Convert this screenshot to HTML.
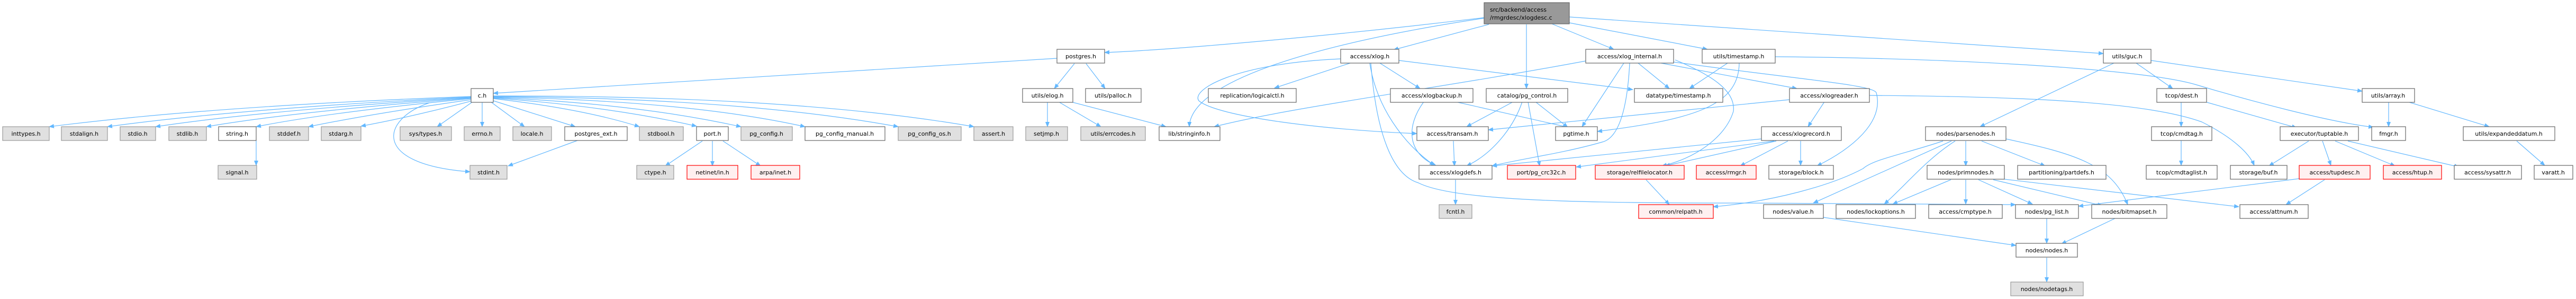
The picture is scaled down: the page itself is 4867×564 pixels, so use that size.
<!DOCTYPE html>
<html><head><meta charset="utf-8"><style>
html,body{margin:0;padding:0;background:#fff}
svg{display:block}
text{font-family:"DejaVu Sans","Liberation Sans",sans-serif;font-size:11px;fill:#000}
.n rect{fill:#fff;stroke:#666;stroke-width:1.2}
.g rect{fill:#e0e0e0;stroke:#999;stroke-width:1.2}
.r rect{fill:#fff0f0;stroke:#f00;stroke-width:1.2}
.e path{fill:none;stroke:#63b8ff;stroke-width:1.2;marker-end:url(#a)}
</style></head><body>
<svg width="4867" height="564" viewBox="0 0 4867 564" xmlns="http://www.w3.org/2000/svg">
<defs><marker id="a" markerWidth="10" markerHeight="8" refX="9" refY="4" orient="auto" markerUnits="userSpaceOnUse"><path d="M0,0 L10,4 L0,8z" fill="#63b8ff"/></marker></defs>
<g class="e">
<!-- main -->
<path d="M2806,33 C2500,70 2200,95 2087,99"/>
<path d="M2806,34 C2500,80 2250,150 2247,239"/>
<path d="M2813,46 L2633,94"/>
<path d="M2884,46 L2884,167"/>
<path d="M2932,45 L3049,93"/>
<path d="M2965,43 L3226,93"/>
<path d="M2965,32 L3974,101"/>
<!-- postgres.h -->
<path d="M1997,110 L932,176"/>
<path d="M2030,120 L1992,167"/>
<path d="M2052,120 L2088,167"/>
<!-- elog -->
<path d="M1979,192 L1979,239"/>
<path d="M2000,192 L2080,239"/>
<path d="M2023,192 L2203,239"/>
<!-- c.h -->
<path d="M890,182 Q400,200 93,239"/>
<path d="M890,183 Q450,205 203,239"/>
<path d="M890,184 Q500,208 294,239"/>
<path d="M890,185 Q560,210 390,239"/>
<path d="M890,186 Q620,212 484,239"/>
<path d="M890,188 Q700,215 583,239"/>
<path d="M893,190 Q780,220 682,238"/>
<path d="M811,194 C720,225 700,310 888,324"/>
<path d="M893,192 L826,239"/>
<path d="M911,192 L911,239"/>
<path d="M927,192 L991,239"/>
<path d="M932,190 L1087,239"/>
<path d="M932,186 Q1100,205 1208,239"/>
<path d="M932,185 Q1150,200 1316,238"/>
<path d="M932,184 Q1200,195 1400,239"/>
<path d="M932,183 Q1300,190 1521,239"/>
<path d="M932,182 Q1400,185 1697,239"/>
<path d="M932,181 Q1500,180 1840,239"/>
<path d="M484,265 L484,312"/>
<path d="M1091,265 L960,313"/>
<path d="M1327,266 L1257,313"/>
<path d="M1346,266 L1346,313"/>
<path d="M1366,266 L1437,313"/>
<!-- xlog.h -->
<path d="M2551,119 L2408,166"/>
<path d="M2533,111 C2330,120 2250,170 2265,190 C2300,220 2500,245 2677,252"/>
<path d="M2607,119 L2683,167"/>
<path d="M2643,114 L3085,169"/>
<path d="M2588,119 C2600,200 2650,270 2710,312"/>
<path d="M2590,119 C2600,250 2630,330 2680,345 C2750,380 3000,383 3300,383 L3808,386"/>
<!-- xlogbackup -->
<path d="M2690,192 C2655,240 2660,290 2713,312"/>
<path d="M2750,192 L2962,240"/>
<!-- pg_control -->
<path d="M2859,192 L2771,239"/>
<path d="M2876,192 C2860,240 2820,290 2771,313"/>
<path d="M2887,192 L2909,313"/>
<path d="M2901,192 L2962,240"/>
<!-- xlog_internal -->
<path d="M2996,115 C2700,170 2450,200 2294,239"/>
<path d="M3068,119 L2989,239"/>
<path d="M3079,119 C3075,200 3060,260 3027,268 C2950,290 2870,300 2819,313"/>
<path d="M3095,119 L3154,167"/>
<path d="M3165,113 C3230,140 3280,170 3275,210 C3260,260 3200,300 3140,313"/>
<path d="M3138,119 L3395,167"/>
<path d="M3162,117 C3400,150 3540,160 3545,175 C3560,230 3500,280 3433,313"/>
<!-- timestamp -->
<path d="M3264,119 L3192,167"/>
<path d="M3286,119 C3285,200 3200,225 3018,248"/>
<path d="M3354,107 C3700,110 4050,130 4150,160 C4250,190 4400,230 4484,240"/>
<!-- xlogreader -->
<path d="M3381,188 L2812,245"/>
<path d="M3447,192 L3416,239"/>
<path d="M3531,180 C3800,182 4050,190 4160,230 C4220,260 4250,290 4259,312"/>
<!-- xlogrecord -->
<path d="M3328,262 L2819,313"/>
<path d="M3352,266 L2978,315"/>
<path d="M3356,266 L3146,313"/>
<path d="M3378,266 L3288,313"/>
<path d="M3402,266 L3402,312"/>
<path d="M2746,266 L2748,313"/>
<path d="M2750,339 L2750,386"/>
<path d="M3110,339 L3154,386"/>
<!-- guc -->
<path d="M3994,119 L3741,239"/>
<path d="M4036,119 L4105,167"/>
<path d="M4064,114 L4463,172"/>
<path d="M4121,192 L4121,239"/>
<path d="M4166,192 L4339,241"/>
<path d="M4513,192 L4513,239"/>
<path d="M4549,192 L4703,239"/>
<path d="M4121,265 L4121,312"/>
<path d="M4362,266 L4287,313"/>
<path d="M4388,266 L4404,312"/>
<path d="M4412,266 L4525,313"/>
<path d="M4436,266 L4646,315"/>
<path d="M4755,266 L4808,312"/>
<path d="M4344,337 L3927,389"/>
<path d="M4392,339 L4319,386"/>
<!-- parsenodes -->
<path d="M3671,266 C3600,290 3540,300 3520,318 C3460,350 3350,380 3237,390"/>
<path d="M3687,266 L3426,383"/>
<path d="M3694,266 C3640,300 3600,350 3560,385"/>
<path d="M3714,266 L3714,313"/>
<path d="M3744,266 L3864,313"/>
<path d="M3790,262 C3920,290 3990,310 4020,386"/>
<!-- primnodes -->
<path d="M3686,339 L3576,385"/>
<path d="M3714,339 L3714,385"/>
<path d="M3738,339 L3840,385"/>
<path d="M3766,339 L3972,388"/>
<path d="M3787,338 L4230,390"/>
<path d="M3867,412 L3867,459"/>
<path d="M3996,412 L3895,460"/>
<path d="M3445,410 L3809,463"/>
<path d="M3867,486 L3867,532"/>
</g>

<!-- main node -->
<g><rect x="2804" y="5" width="161" height="40" fill="#999" stroke="#666" stroke-width="1.2"/>
<text x="2815" y="22">src/backend/access</text><text x="2815" y="37">/rmgrdesc/xlogdesc.c</text></g>

<!-- row1 y93 -->
<g class="n"><rect x="1997" y="93" width="90" height="26"/><text x="2042" y="110" text-anchor="middle">postgres.h</text></g>
<g class="n"><rect x="2533" y="93" width="110" height="26"/><text x="2588" y="110" text-anchor="middle">access/xlog.h</text></g>
<g class="n"><rect x="2996" y="93" width="166" height="26"/><text x="3079" y="110" text-anchor="middle">access/xlog_internal.h</text></g>
<g class="n"><rect x="3216" y="93" width="138" height="26"/><text x="3285" y="110" text-anchor="middle">utils/timestamp.h</text></g>
<g class="n"><rect x="3974" y="93" width="90" height="26"/><text x="4019" y="110" text-anchor="middle">utils/guc.h</text></g>

<!-- row2 y167 -->
<g class="n"><rect x="890" y="167" width="42" height="26"/><text x="911" y="184" text-anchor="middle">c.h</text></g>
<g class="n"><rect x="1932" y="167" width="95" height="26"/><text x="1979" y="184" text-anchor="middle">utils/elog.h</text></g>
<g class="n"><rect x="2051" y="167" width="105" height="26"/><text x="2103" y="184" text-anchor="middle">utils/palloc.h</text></g>
<g class="n"><rect x="2283" y="167" width="166" height="26"/><text x="2366" y="184" text-anchor="middle">replication/logicalctl.h</text></g>
<g class="n"><rect x="2627" y="167" width="156" height="26"/><text x="2705" y="184" text-anchor="middle">access/xlogbackup.h</text></g>
<g class="n"><rect x="2808" y="167" width="154" height="26"/><text x="2885" y="184" text-anchor="middle">catalog/pg_control.h</text></g>
<g class="n"><rect x="3088" y="167" width="167" height="26"/><text x="3171" y="184" text-anchor="middle">datatype/timestamp.h</text></g>
<g class="n"><rect x="3381" y="167" width="151" height="26"/><text x="3456" y="184" text-anchor="middle">access/xlogreader.h</text></g>
<g class="n"><rect x="4075" y="167" width="94" height="26"/><text x="4122" y="184" text-anchor="middle">tcop/dest.h</text></g>
<g class="n"><rect x="4463" y="167" width="99" height="26"/><text x="4512" y="184" text-anchor="middle">utils/array.h</text></g>

<!-- row3 y239 -->
<g class="g"><rect x="5" y="239" width="88" height="26"/><text x="49" y="256" text-anchor="middle">inttypes.h</text></g>
<g class="g"><rect x="116" y="239" width="87" height="26"/><text x="159" y="256" text-anchor="middle">stdalign.h</text></g>
<g class="g"><rect x="227" y="239" width="67" height="26"/><text x="260" y="256" text-anchor="middle">stdio.h</text></g>
<g class="g"><rect x="319" y="239" width="71" height="26"/><text x="354" y="256" text-anchor="middle">stdlib.h</text></g>
<g class="n"><rect x="413" y="239" width="71" height="26"/><text x="448" y="256" text-anchor="middle">string.h</text></g>
<g class="g"><rect x="509" y="239" width="74" height="26"/><text x="546" y="256" text-anchor="middle">stddef.h</text></g>
<g class="g"><rect x="607" y="239" width="75" height="26"/><text x="644" y="256" text-anchor="middle">stdarg.h</text></g>
<g class="g"><rect x="756" y="239" width="97" height="26"/><text x="804" y="256" text-anchor="middle">sys/types.h</text></g>
<g class="g"><rect x="877" y="239" width="68" height="26"/><text x="911" y="256" text-anchor="middle">errno.h</text></g>
<g class="g"><rect x="969" y="239" width="73" height="26"/><text x="1005" y="256" text-anchor="middle">locale.h</text></g>
<g class="n"><rect x="1067" y="239" width="118" height="26"/><text x="1126" y="256" text-anchor="middle">postgres_ext.h</text></g>
<g class="g"><rect x="1208" y="239" width="83" height="26"/><text x="1249" y="256" text-anchor="middle">stdbool.h</text></g>
<g class="n"><rect x="1316" y="239" width="60" height="26"/><text x="1346" y="256" text-anchor="middle">port.h</text></g>
<g class="g"><rect x="1400" y="239" width="97" height="26"/><text x="1448" y="256" text-anchor="middle">pg_config.h</text></g>
<g class="n"><rect x="1521" y="239" width="151" height="26"/><text x="1596" y="256" text-anchor="middle">pg_config_manual.h</text></g>
<g class="g"><rect x="1697" y="239" width="119" height="26"/><text x="1756" y="256" text-anchor="middle">pg_config_os.h</text></g>
<g class="g"><rect x="1840" y="239" width="74" height="26"/><text x="1877" y="256" text-anchor="middle">assert.h</text></g>
<g class="g"><rect x="1938" y="239" width="79" height="26"/><text x="1977" y="256" text-anchor="middle">setjmp.h</text></g>
<g class="g"><rect x="2042" y="239" width="122" height="26"/><text x="2103" y="256" text-anchor="middle">utils/errcodes.h</text></g>
<g class="n"><rect x="2190" y="239" width="115" height="26"/><text x="2247" y="256" text-anchor="middle">lib/stringinfo.h</text></g>
<g class="n"><rect x="2677" y="239" width="135" height="26"/><text x="2744" y="256" text-anchor="middle">access/transam.h</text></g>
<g class="n"><rect x="2939" y="239" width="79" height="26"/><text x="2978" y="256" text-anchor="middle">pgtime.h</text></g>
<g class="n"><rect x="3328" y="239" width="151" height="26"/><text x="3403" y="256" text-anchor="middle">access/xlogrecord.h</text></g>
<g class="n"><rect x="3638" y="239" width="152" height="26"/><text x="3714" y="256" text-anchor="middle">nodes/parsenodes.h</text></g>
<g class="n"><rect x="4065" y="239" width="114" height="26"/><text x="4122" y="256" text-anchor="middle">tcop/cmdtag.h</text></g>
<g class="n"><rect x="4308" y="239" width="148" height="26"/><text x="4382" y="256" text-anchor="middle">executor/tuptable.h</text></g>
<g class="n"><rect x="4481" y="239" width="64" height="26"/><text x="4513" y="256" text-anchor="middle">fmgr.h</text></g>
<g class="n"><rect x="4654" y="239" width="173" height="26"/><text x="4740" y="256" text-anchor="middle">utils/expandeddatum.h</text></g>

<!-- row4 y312 -->
<g class="g"><rect x="412" y="312" width="73" height="26"/><text x="448" y="329" text-anchor="middle">signal.h</text></g>
<g class="g"><rect x="888" y="312" width="70" height="26"/><text x="923" y="329" text-anchor="middle">stdint.h</text></g>
<g class="g"><rect x="1203" y="312" width="70" height="26"/><text x="1238" y="329" text-anchor="middle">ctype.h</text></g>
<g class="r"><rect x="1298" y="312" width="96" height="26"/><text x="1346" y="329" text-anchor="middle">netinet/in.h</text></g>
<g class="r"><rect x="1419" y="312" width="92" height="26"/><text x="1465" y="329" text-anchor="middle">arpa/inet.h</text></g>
<g class="n"><rect x="2681" y="312" width="138" height="26"/><text x="2750" y="329" text-anchor="middle">access/xlogdefs.h</text></g>
<g class="r"><rect x="2848" y="312" width="129" height="26"/><text x="2912" y="329" text-anchor="middle">port/pg_crc32c.h</text></g>
<g class="r"><rect x="3014" y="312" width="168" height="26"/><text x="3098" y="329" text-anchor="middle">storage/relfilelocator.h</text></g>
<g class="r"><rect x="3205" y="312" width="113" height="26"/><text x="3261" y="329" text-anchor="middle">access/rmgr.h</text></g>
<g class="n"><rect x="3342" y="312" width="122" height="26"/><text x="3403" y="329" text-anchor="middle">storage/block.h</text></g>
<g class="n"><rect x="3641" y="312" width="146" height="26"/><text x="3714" y="329" text-anchor="middle">nodes/primnodes.h</text></g>
<g class="n"><rect x="3812" y="312" width="167" height="26"/><text x="3895" y="329" text-anchor="middle">partitioning/partdefs.h</text></g>
<g class="n"><rect x="4055" y="312" width="134" height="26"/><text x="4122" y="329" text-anchor="middle">tcop/cmdtaglist.h</text></g>
<g class="n"><rect x="4214" y="312" width="107" height="26"/><text x="4267" y="329" text-anchor="middle">storage/buf.h</text></g>
<g class="r"><rect x="4344" y="312" width="134" height="26"/><text x="4411" y="329" text-anchor="middle">access/tupdesc.h</text></g>
<g class="r"><rect x="4503" y="312" width="110" height="26"/><text x="4558" y="329" text-anchor="middle">access/htup.h</text></g>
<g class="n"><rect x="4637" y="312" width="127" height="26"/><text x="4700" y="329" text-anchor="middle">access/sysattr.h</text></g>
<g class="n"><rect x="4788" y="312" width="73" height="26"/><text x="4824" y="329" text-anchor="middle">varatt.h</text></g>

<!-- row5 y386 -->
<g class="g"><rect x="2719" y="386" width="62" height="26"/><text x="2750" y="403" text-anchor="middle">fcntl.h</text></g>
<g class="r"><rect x="3096" y="386" width="141" height="26"/><text x="3166" y="403" text-anchor="middle">common/relpath.h</text></g>
<g class="n"><rect x="3332" y="386" width="113" height="26"/><text x="3388" y="403" text-anchor="middle">nodes/value.h</text></g>
<g class="n"><rect x="3469" y="386" width="150" height="26"/><text x="3544" y="403" text-anchor="middle">nodes/lockoptions.h</text></g>
<g class="n"><rect x="3644" y="386" width="139" height="26"/><text x="3713" y="403" text-anchor="middle">access/cmptype.h</text></g>
<g class="n"><rect x="3808" y="386" width="119" height="26"/><text x="3867" y="403" text-anchor="middle">nodes/pg_list.h</text></g>
<g class="n"><rect x="3952" y="386" width="142" height="26"/><text x="4023" y="403" text-anchor="middle">nodes/bitmapset.h</text></g>
<g class="n"><rect x="4232" y="386" width="129" height="26"/><text x="4296" y="403" text-anchor="middle">access/attnum.h</text></g>

<!-- row6/7 -->
<g class="n"><rect x="3809" y="459" width="116" height="26"/><text x="3867" y="476" text-anchor="middle">nodes/nodes.h</text></g>
<g class="g"><rect x="3799" y="532" width="137" height="26"/><text x="3867" y="549" text-anchor="middle">nodes/nodetags.h</text></g>
</svg>
</body></html>
